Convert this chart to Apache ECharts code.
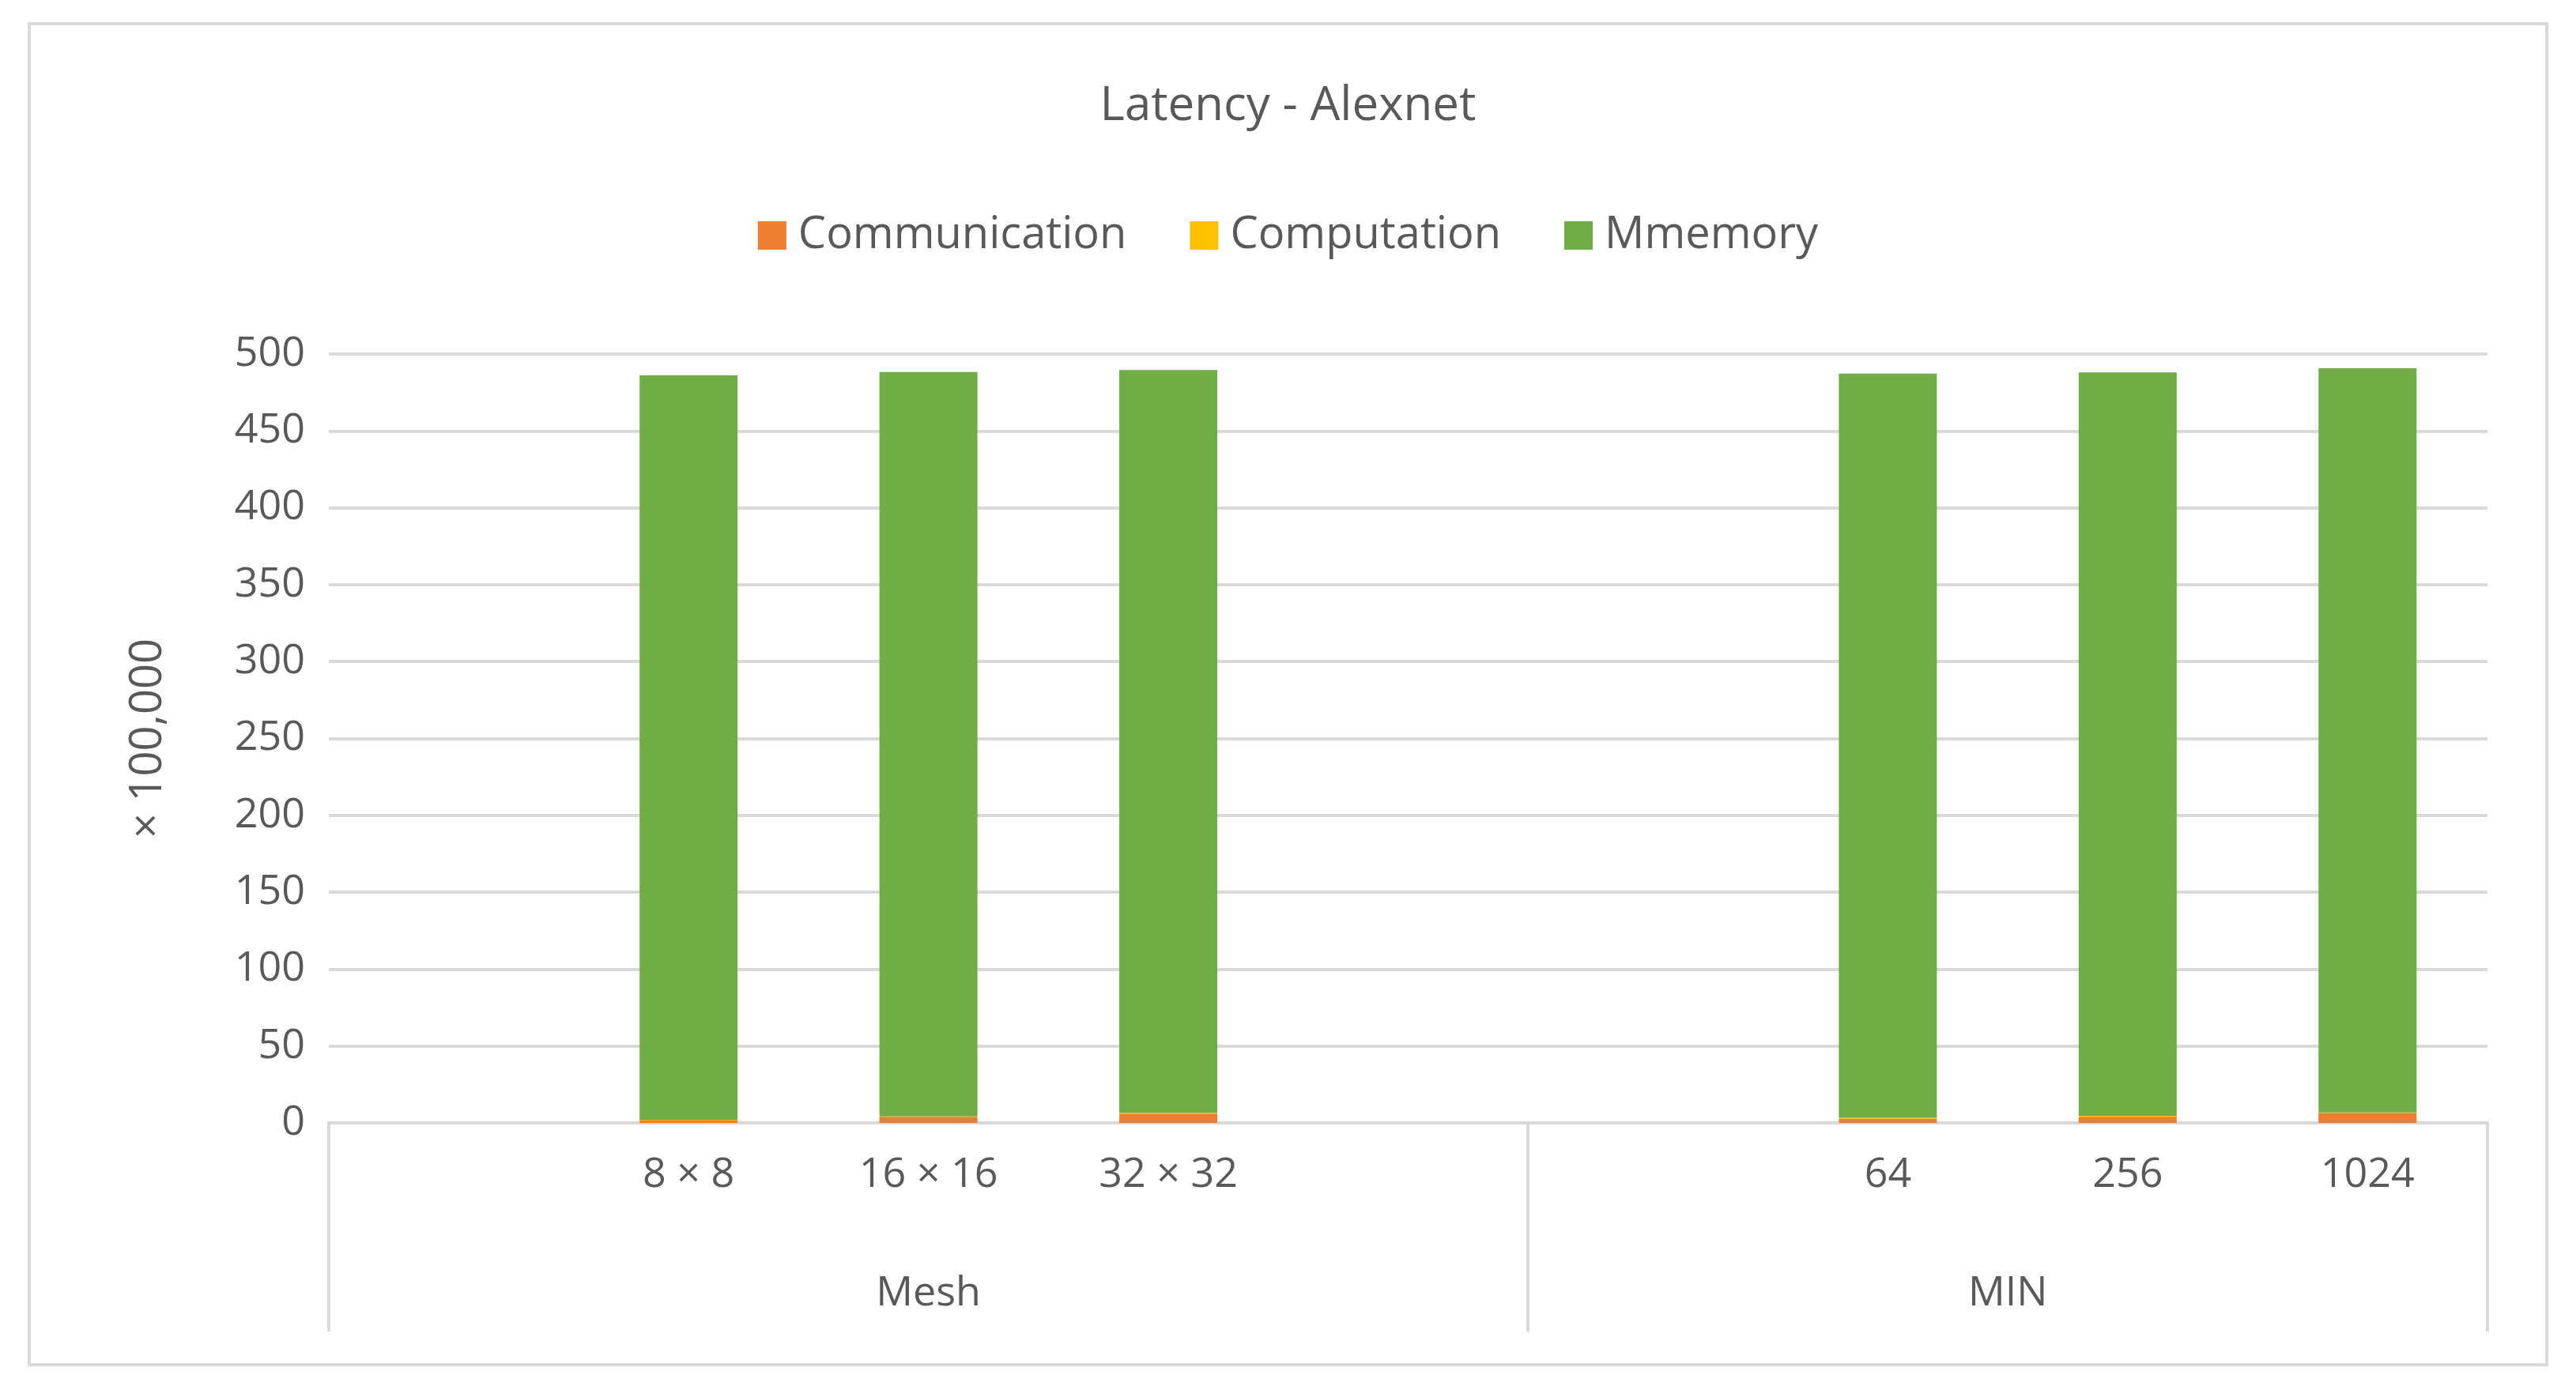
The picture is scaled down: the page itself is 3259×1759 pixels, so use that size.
<!DOCTYPE html><html><head><meta charset="utf-8"><script src="https://cdn.jsdelivr.net/npm/echarts@6/dist/echarts.min.js"></script>
<style>html,body{margin:0;background:#fff}#c{width:3259px;height:1759px}</style></head><body><div id="c"></div><script>
const categories=['', '8 × 8','16 × 16','32 × 32','', '', '64','256','1024'];
const groups=['Mesh','MIN'];
const communication=[null,1.5,4,6,null,null,2.7,4,6.5];
const computation=[null,0.6,0.3,0.6,null,null,0.6,0.6,0.3];
const memory=[null,484,484,483,null,null,484,483.5,484];
const yTicks=[0,50,100,150,200,250,300,350,400,450,500];
const font='"Open Sans", "Noto Sans", sans-serif', tc='#595959';
const chart=echarts.init(document.getElementById('c'));
const s=(name,data,color)=>({name,type:'bar',stack:'t',data,barWidth:124,itemStyle:{color},xAxisIndex:0});
chart.setOption({
 graphic:[{type:'rect',shape:{x:37,y:30,width:3185,height:1697},style:{fill:'none',stroke:'#D9D9D9',lineWidth:4}}],
 title:{text:'Latency - Alexnet',left:'center',top:100,textStyle:{fontFamily:font,fontWeight:'normal',fontSize:60,color:tc}},
 legend:{top:265,left:'center',itemWidth:36,itemHeight:36,itemGap:80,icon:'rect',textStyle:{fontFamily:font,fontSize:56,color:tc,padding:[0,0,0,10]}},
 grid:{left:416,right:112,top:448,bottom:338},
 xAxis:[{type:'category',data:categories,axisLine:{lineStyle:{color:'#D9D9D9',width:4}},axisTick:{show:false},
   axisLabel:{interval:0,fontFamily:font,fontSize:52,color:tc,margin:40}},
  {type:'value',position:'bottom',min:0,max:9,axisLine:{show:false},splitLine:{show:false},
   axisTick:{show:true,customValues:[0,5,9],length:264,inside:false,lineStyle:{color:'#D9D9D9',width:4}},
   axisLabel:{customValues:[2.5,7],formatter:v=>v===2.5?groups[0]:groups[1],fontFamily:font,fontSize:52,color:tc,margin:190}}],
 yAxis:{type:'value',min:0,max:500,interval:50,name:'× 100,000',nameLocation:'middle',nameGap:200,nameRotate:90,
   nameTextStyle:{fontFamily:font,fontSize:56,color:tc},
   axisLabel:{fontFamily:font,fontSize:52,color:tc,margin:30,formatter:v=>yTicks.includes(v)?String(v):''},
   splitLine:{lineStyle:{color:'#D9D9D9',width:4}},axisLine:{show:false},axisTick:{show:false}},
 series:[s('Communication',communication,'#ED7D31'),s('Computation',computation,'#FFC000'),s('Mmemory',memory,'#70AD47')]
});
</script></body></html>
